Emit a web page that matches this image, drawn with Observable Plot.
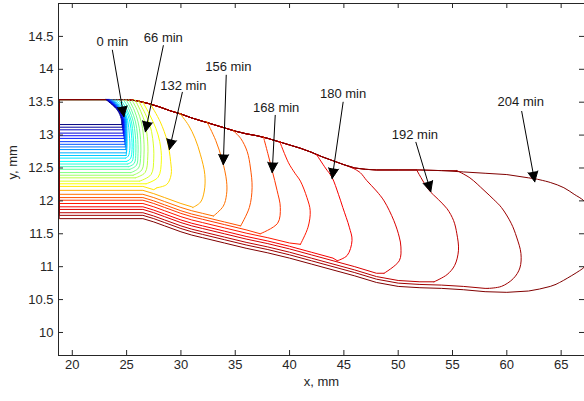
<!DOCTYPE html>
<html><head><meta charset="utf-8">
<script src="https://cdn.jsdelivr.net/npm/d3@7"></script>
<script src="https://cdn.jsdelivr.net/npm/@observablehq/plot@0.6"></script>
<style>body{margin:0;background:#fff} #chart svg{display:block}</style>
</head><body><div id="chart"></div>
<script>
// ---- data ----
const contourTimes = [0,6,12,18,24,30,36,42,48,54,60,66,72,78,84,90,96,102,108,114,120,126,132,144,156,162,168,174,180,186,192,198,204];
// y of each contour's lower boundary at the left edge (mm)
const bottomLeftY = [13.16,13.12,13.08,13.03,12.99,12.95,12.90,12.86,12.82,12.78,12.73,12.69,12.65,12.60,12.56,12.52,12.48,12.43,12.39,12.35,12.30,12.26,12.22,12.16,12.10,12.05,12.01,11.96,11.91,11.87,11.82,11.78,11.73];
// upper free surface (x, y) mm
const topSurface = [[18.8,13.54],[25,13.54],[26,13.52],[27,13.48],[28,13.43],[29,13.37],[30,13.32],[31,13.26],[32,13.21],[33,13.16],[34,13.11],[35,13.06],[36,13.02],[37,12.99],[38,12.95],[39,12.9],[40,12.85],[41,12.8],[42,12.74],[43,12.67],[44,12.61],[45,12.55],[46,12.5],[47,12.48],[48,12.47],[50,12.47],[52,12.47],[54,12.46],[56,12.44],[58,12.42],[60,12.4],[62,12.35]];
// lowest boundary line (x, y) mm
const lowerSurface = [[18.8,11.73],[26.5,11.73],[27.5,11.68],[28.5,11.62],[30,11.53],[31,11.48],[32,11.44],[34,11.36],[36,11.28],[38,11.21],[40,11.13],[42,11.04],[44,10.95],[46,10.86],[48,10.76],[50,10.7],[52,10.68],[54,10.67],[56,10.65],[58,10.62],[60,10.61],[62,10.63],[63,10.66],[64,10.7]];
// front of each contour, from the upper surface down to its lower boundary
const fronts = [
 [[23.1,13.54],[24.15,13.38],[24.5,13.25],[24.55,13.16]],
 [[23.15,13.54],[24.2,13.38],[24.55,13.25],[24.6,13.12]],
 [[23.2,13.54],[24.24,13.38],[24.59,13.25],[24.64,13.08]],
 [[23.25,13.54],[24.28,13.38],[24.63,13.25],[24.68,13.1],[24.68,13.03]],
 [[23.3,13.54],[24.32,13.38],[24.67,13.25],[24.72,13.1],[24.72,12.99]],
 [[23.35,13.54],[24.36,13.38],[24.71,13.25],[24.76,13.1],[24.76,12.95]],
 [[23.4,13.54],[24.4,13.38],[24.75,13.25],[24.8,13.1],[24.8,12.9]],
 [[23.45,13.54],[24.44,13.38],[24.79,13.25],[24.84,13.1],[24.84,12.86]],
 [[23.5,13.54],[24.48,13.38],[24.83,13.25],[24.88,13.1],[24.88,12.82]],
 [[23.6,13.54],[24.53,13.38],[24.88,13.25],[24.93,13.1],[24.93,12.78]],
 [[23.7,13.54],[24.58,13.38],[24.93,13.25],[24.98,13.1],[24.98,12.73]],
 [[23.85,13.54],[24.63,13.38],[24.98,13.25],[25.03,13.1],[25.03,12.8],[24.95,12.69]],
 [[24.0,13.54],[24.75,13.38],[25.1,13.22],[25.25,13.0],[25.3,12.8],[25.15,12.68],[24.9,12.65]],
 [[24.2,13.54],[24.9,13.38],[25.3,13.2],[25.45,13.0],[25.5,12.78],[25.35,12.64],[25.0,12.6]],
 [[24.45,13.54],[25.05,13.38],[25.45,13.2],[25.6,13.0],[25.65,12.76],[25.5,12.6],[25.1,12.56]],
 [[24.7,13.54],[25.25,13.38],[25.62,13.2],[25.8,13.0],[25.85,12.74],[25.7,12.57],[25.2,12.52]],
 [[24.95,13.54],[25.45,13.38],[25.82,13.2],[26.0,13.0],[26.05,12.72],[25.9,12.54],[25.3,12.48]],
 [[25.2,13.54],[25.7,13.38],[26.05,13.2],[26.25,13.0],[26.3,12.7],[26.1,12.5],[25.4,12.43]],
 [[25.5,13.53],[26.0,13.37],[26.35,13.2],[26.55,13.0],[26.6,12.7],[26.4,12.47],[25.6,12.39]],
 [[25.8,13.53],[26.3,13.36],[26.7,13.18],[26.9,12.98],[26.95,12.68],[26.7,12.43],[25.8,12.35]],
 [[26.1,13.52],[26.7,13.33],[27.15,13.15],[27.4,12.95],[27.5,12.65],[27.25,12.4],[26.2,12.3]],
 [[26.5,13.5],[27.15,13.3],[27.7,13.1],[28.05,12.9],[28.2,12.62],[27.9,12.36],[26.8,12.26]],
 [[27.2,13.47],[28.1,13.2],[28.75,12.9],[29.05,12.6],[29.1,12.4],[28.7,12.25],[27.8,12.2]],
 [[29.9,13.33],[30.7,13.15],[31.3,12.95],[31.8,12.7],[32.2,12.4],[32.15,12.15],[31.8,11.98],[31.1,11.9]],
 [[32.4,13.2],[33.2,12.92],[33.8,12.62],[34.2,12.3],[34.2,12.1],[33.9,11.92],[33.0,11.77]],
 [[34.8,13.07],[35.5,12.95],[36.1,12.75],[36.4,12.5],[36.55,12.2],[36.3,11.9],[35.5,11.62]],
 [[37.6,12.97],[38.0,12.72],[38.4,12.46],[38.85,12.16],[39.15,11.9],[38.9,11.66],[37.3,11.5]],
 [[39.1,12.9],[39.9,12.58],[40.5,12.42],[41.0,12.3],[41.6,12.05],[41.9,11.85],[41.7,11.6],[41.0,11.34]],
 [[42.5,12.7],[43.3,12.5],[43.9,12.36],[44.5,12.1],[44.9,11.9],[45.5,11.6],[45.75,11.4],[45.3,11.17],[44.4,11.09]],
 [[45.8,12.5],[46.5,12.43],[47.1,12.31],[48.0,12.15],[48.7,12.0],[49.6,11.7],[50.1,11.45],[50.25,11.3],[50.1,11.09],[48.7,10.9]],
 [[51.7,12.47],[52.8,12.17],[53.7,12.02],[54.5,11.88],[55.1,11.7],[55.4,11.5],[55.55,11.25],[55.2,11.02],[54.5,10.88],[53.3,10.77]],
 [[55.4,12.46],[56.6,12.35],[57.9,12.16],[58.8,12.02],[59.5,11.9],[60.4,11.66],[60.9,11.45],[61.3,11.2],[61.2,10.98],[60.6,10.82],[59.5,10.7],[58.3,10.67]],
 [[62.5,12.34],[64,12.28],[65.25,12.2],[66.2,12.1],[67.1,12.0],[68,11.8],[68,11.2],[67.1,10.99],[66.7,10.94],[65.2,10.79],[64.5,10.73]]
];
// annotations
const labelText = ["0 min","66 min","132 min","156 min","168 min","180 min","192 min","204 min"];
const labelX = [23.69,28.38,30.22,34.36,38.77,44.93,51.54,61.28];
const labelY = [14.41,14.48,13.75,14.03,13.42,13.63,13.01,13.50];
const arrowFromX = [23.69,28.38,30.13,34.17,38.68,44.93,51.63,61.37];
const arrowFromY = [14.29,14.36,13.65,13.91,13.30,13.50,12.89,13.36];
const arrowToX = [24.75,26.73,28.94,33.9,38.4,43.92,53.0,62.57];
const arrowToY = [13.28,13.05,12.78,12.55,12.43,12.34,12.14,12.29];
// axes
const xTicks = [20,25,30,35,40,45,50,55,60,65];
const xTickLabels = ["20","25","30","35","40","45","50","55","60","65"];
const yTicks = [10,10.5,11,11.5,12,12.5,13,13.5,14,14.5];
const yTickLabels = ["10","10.5","11","11.5","12","12.5","13","13.5","14","14.5"];
const xDomain = [18.73, 67.15];
const yDomain = [9.65, 15.0];

// ---- build ----
function jet(v) {
  const c = (a) => Math.max(0, Math.min(1, a));
  const r = c(Math.min(4*v - 1.5, -4*v + 4.5));
  const g = c(Math.min(4*v - 0.5, -4*v + 3.5));
  const b = c(Math.min(4*v + 0.5, -4*v + 2.5));
  return d3.rgb(r*255, g*255, b*255).formatHex();
}
const tMax = contourTimes[contourTimes.length - 1];
const boundaryPts = [];
const frontPts = [];
contourTimes.forEach((t, k) => {
  const f = fronts[k];
  const xt = f[0][0], xe = f[f.length - 1][0];
  const off = bottomLeftY[k] - lowerSurface[0][1];
  const color = jet(t / tMax);
  // straight boundary: from the front's foot, back along the lower line, up the left edge, along the upper surface to the front's head
  const path = [f[f.length - 1]];
  for (let j = lowerSurface.length - 1; j >= 0; j--) {
    const p = lowerSurface[j];
    if (p[0] < xe) path.push([p[0], p[1] + off]);
  }
  for (const p of topSurface) if (p[0] < xt) path.push(p);
  path.push(f[0]);
  for (const [x, y] of path) boundaryPts.push({x, y, k, color});
  for (const [x, y] of f) frontPts.push({x, y, k, color});
});
const ann = labelText.map((s, i) => ({s, lx: labelX[i], ly: labelY[i], x1: arrowFromX[i], y1: arrowFromY[i], x2: arrowToX[i], y2: arrowToY[i]}));
const xt = xTicks.map((v, i) => ({v, s: xTickLabels[i]}));
const yt = yTicks.map((v, i) => ({v, s: yTickLabels[i]}));
const axisColor = "#262626";

const chart = Plot.plot({
  width: 584, height: 401,
  marginLeft: 58, marginRight: 0, marginTop: 3, marginBottom: 46,
  style: {fontFamily: "'Liberation Sans', Arial, sans-serif", fontSize: "13px", color: axisColor, background: "#fff"},
  x: {domain: xDomain, axis: null},
  y: {domain: yDomain, axis: null},
  color: {type: "identity"},
  marks: [
    Plot.line(boundaryPts, {x: "x", y: "y", z: "k", stroke: "color", strokeWidth: 1, clip: true}),
    Plot.line(frontPts, {x: "x", y: "y", z: "k", stroke: "color", strokeWidth: 1, curve: "catmull-rom", clip: true}),
    Plot.frame({stroke: axisColor}),
    Plot.ruleX(xt, {x: "v", y1: () => yDomain[0], y2: () => yDomain[0], insetBottom: 5, stroke: axisColor}),
    Plot.ruleX(xt, {x: "v", y1: () => yDomain[1], y2: () => yDomain[1], insetTop: 5, stroke: axisColor}),
    Plot.ruleY(yt, {y: "v", x1: () => xDomain[0], x2: () => xDomain[0], insetLeft: 5, stroke: axisColor}),
    Plot.ruleY(yt, {y: "v", x1: () => xDomain[1], x2: () => xDomain[1], insetRight: 5, stroke: axisColor}),
    Plot.text(xt, {x: "v", text: "s", frameAnchor: "bottom", dy: 13, fill: axisColor}),
    Plot.text(yt, {y: "v", text: "s", frameAnchor: "left", dx: -5, textAnchor: "end", fill: axisColor}),
    Plot.text(["x, mm"], {frameAnchor: "bottom", dy: 30, fill: axisColor}),
    Plot.text(["y, mm"], {frameAnchor: "left", dx: -46, rotate: -90, fill: axisColor}),
    Plot.arrow(ann, {x1: "x1", y1: "y1", x2: "x2", y2: "y2", stroke: "#000", fill: "#000", strokeWidth: 1, headLength: 17, headAngle: 52}),
    Plot.text(ann, {x: "lx", y: "ly", text: "s", fontSize: 13, fill: "#1a1a1a"})
  ]
});
document.getElementById("chart").appendChild(chart);
</script></body></html>
